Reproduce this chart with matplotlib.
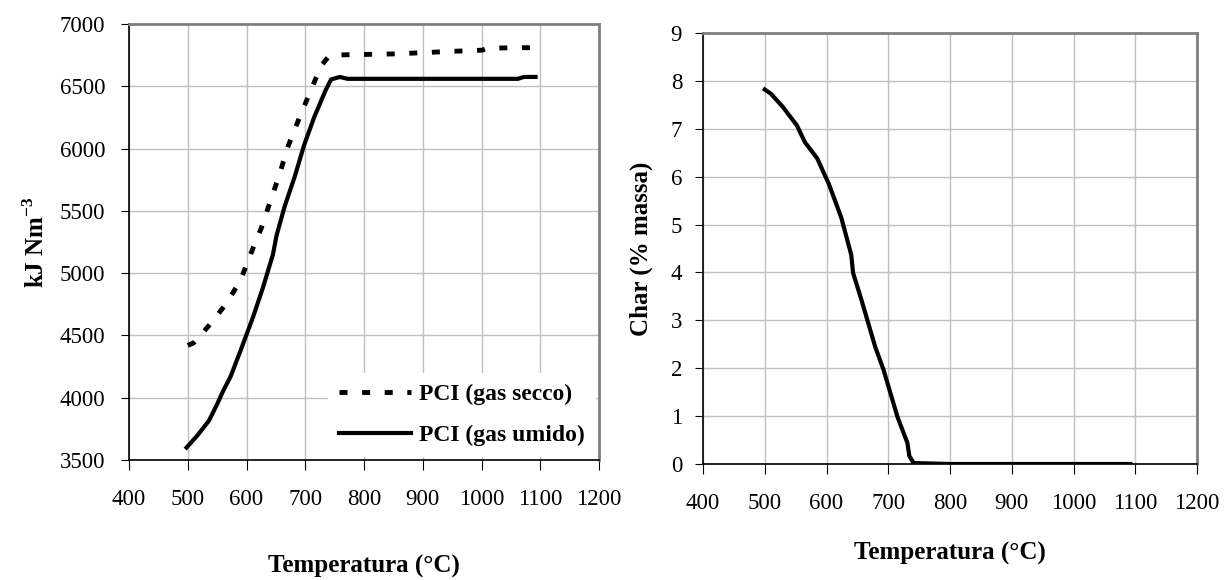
import matplotlib
matplotlib.use("Agg")
import matplotlib.pyplot as plt

plt.rcParams['font.family'] = ['Liberation Serif', 'DejaVu Serif']
plt.rcParams['mathtext.fontset'] = 'custom'
plt.rcParams['mathtext.rm'] = 'Liberation Serif:bold'
plt.rcParams['mathtext.bf'] = 'Liberation Serif:bold'

# PCI gas secco (dry gas)
t_secco = [500, 510, 540, 567, 590, 608, 625, 657, 670, 689, 707, 727, 740, 757,
           853, 947, 1001, 1010, 1055, 1090]
pci_secco = [4420, 4440, 4600, 4765, 4945, 5165, 5360, 5805, 6010, 6235, 6440, 6665,
             6740, 6752, 6760, 6780, 6790, 6805, 6810, 6810]

# PCI gas umido (wet gas)
t_umido = [498, 516, 536, 550, 560, 573, 590, 611, 628, 645, 651, 665, 682, 698,
           715, 735, 744, 759, 772, 853, 1062, 1072, 1092]
pci_umido = [3600, 3695, 3815, 3948, 4052, 4171, 4380, 4646, 4884, 5150, 5300, 5537,
             5774, 6027, 6250, 6472, 6555, 6575, 6560, 6560, 6560, 6575, 6575]

# Char (% massa)
t_char = [500, 510, 529, 552, 565, 585, 604, 624, 640, 643, 656, 679, 692, 715, 731,
          734, 741, 800, 900, 1000, 1092]
char = [7.82, 7.73, 7.46, 7.07, 6.72, 6.38, 5.84, 5.14, 4.37, 3.99, 3.45, 2.44, 1.98,
        0.98, 0.44, 0.17, 0.02, 0.0, 0.0, 0.0, 0.0]

fig = plt.figure(figsize=(12.31, 5.8), dpi=100)
ax1 = fig.add_axes([0.1048, 0.2069, 0.3818, 0.7517])
ax2 = fig.add_axes([0.5711, 0.2000, 0.4013, 0.7431])

def style(ax, ypad, xlabpad):
    ax.grid(True, color='#c0c0c0', linewidth=1)
    ax.set_axisbelow(True)
    for s in ['top', 'right']:
        ax.spines[s].set_color('#808080')
        ax.spines[s].set_linewidth(2)
    for s in ['left', 'bottom']:
        ax.spines[s].set_color('black')
        ax.spines[s].set_linewidth(1.2)
    ax.tick_params(axis='x', direction='out', length=7, labelsize=16.5, pad=14)
    ax.tick_params(axis='y', direction='out', length=6, labelsize=16.5, pad=ypad)
    ax.set_xlim(400, 1200)
    ax.set_xticks(range(400, 1201, 100))
    ax.set_xlabel('Temperatura (°C)', fontsize=18, fontweight='bold', labelpad=xlabpad)

style(ax1, 11, 32)
ax1.plot(t_secco, pci_secco, color='black', lw=3.5, linestyle=(0, (1.65, 3.0)),
         label='PCI (gas secco)')
ax1.plot(t_umido, pci_umido, color='black', lw=3.0, label='PCI (gas umido)')
ax1.set_ylim(3500, 7000)
ax1.set_yticks(range(3500, 7001, 500))
ax1.set_ylabel(r'kJ Nm$^{-3}$', fontsize=18, fontweight='bold', labelpad=8)
leg = ax1.legend(loc='lower right', handlelength=3.05, fontsize=17, frameon=True,
                 fancybox=False, borderaxespad=0.15, labelspacing=0.8,
                 handletextpad=0.35, borderpad=0.45)
leg.get_frame().set_facecolor('white')
leg.get_frame().set_edgecolor('white')
leg.get_frame().set_alpha(1)
for txt in leg.get_texts():
    txt.set_fontweight('bold')

style(ax2, 9, 20)
ax2.plot(t_char, char, color='black', lw=3.0)
ax2.set_ylim(0, 9)
ax2.set_yticks(range(0, 10))
ax2.set_ylabel('Char (% massa)', fontsize=18, fontweight='bold', labelpad=13)

fig.savefig('out.png', dpi=100)
